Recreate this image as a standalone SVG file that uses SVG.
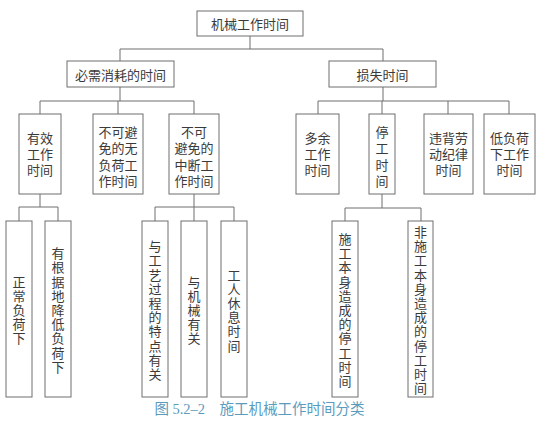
<svg xmlns="http://www.w3.org/2000/svg" width="543" height="433" viewBox="0 0 543 433">
<style>
.b{fill:#fff;stroke:#6e6e6e;stroke-width:1}
.t{font-family:"Noto Sans CJK SC","Noto Sans",sans-serif;font-size:13px;fill:#3a3a3a;text-anchor:middle;dominant-baseline:central}
.c{fill:none;stroke:#6e6e6e;stroke-width:1}
.cap{font-family:"Liberation Serif","Noto Sans CJK SC",serif;font-size:14.5px;fill:#5b9bbd;text-anchor:middle;dominant-baseline:central}
</style>
<rect width="543" height="433" fill="#fff"/>
<g id="connectors" class="c">
<path d="M250,36V49M120,49H383M120,49V61M383,49V61"/>
<path d="M120,87V101M40,101H194M40,101V114M118,101V114M194,101V114"/>
<path d="M383,87V101M318,101H509M318,101V114M382,101V114M448,101V114M509,101V114"/>
<path d="M40,194V207M19,207H58M19,207V221M58,207V221"/>
<path d="M194,194V207M155,207H234M155,207V221M194,207V221M234,207V221"/>
<path d="M382,194V208M345,208H421M345,208V221M421,208V221"/>
</g>
<g id="n-root"><rect class="b" x="197" y="11" width="106" height="25"/><text class="t" x="250" y="23.5">机械工作时间</text></g>
<g id="n-need"><rect class="b" x="67" y="61" width="107" height="26"/><text class="t" x="120.5" y="74">必需消耗的时间</text></g>
<g id="n-loss"><rect class="b" x="329" y="61" width="107" height="26"/><text class="t" x="382.5" y="74">损失时间</text></g>
<g id="n-eff"><rect class="b" x="19" y="114" width="42" height="80"/><text class="t"><tspan x="40" y="137">有效</tspan><tspan x="40" y="153">工作</tspan><tspan x="40" y="169">时间</tspan></text></g>
<g id="n-noload"><rect class="b" x="93" y="114" width="50" height="80"/><text class="t"><tspan x="118" y="131">不可避</tspan><tspan x="118" y="147.3">免的无</tspan><tspan x="118" y="163.6">负荷工</tspan><tspan x="118" y="180">作时间</tspan></text></g>
<g id="n-interrupt"><rect class="b" x="169" y="114" width="50" height="80"/><text class="t"><tspan x="194" y="131">不可</tspan><tspan x="194" y="147.3">避免的</tspan><tspan x="194" y="163.6">中断工</tspan><tspan x="194" y="180">作时间</tspan></text></g>
<g id="n-extra"><rect class="b" x="296" y="114" width="43" height="80"/><text class="t"><tspan x="317.5" y="137">多余</tspan><tspan x="317.5" y="153">工作</tspan><tspan x="317.5" y="169">时间</tspan></text></g>
<g id="n-stop"><rect class="b" x="369" y="114" width="26" height="80"/><text class="t"><tspan x="382" y="131">停</tspan><tspan x="382" y="147.3">工</tspan><tspan x="382" y="163.6">时</tspan><tspan x="382" y="180">间</tspan></text></g>
<g id="n-discipline"><rect class="b" x="424" y="114" width="49" height="80"/><text class="t"><tspan x="448.5" y="137">违背劳</tspan><tspan x="448.5" y="153">动纪律</tspan><tspan x="448.5" y="169">时间</tspan></text></g>
<g id="n-lowload"><rect class="b" x="484" y="114" width="51" height="80"/><text class="t"><tspan x="509.5" y="137">低负荷</tspan><tspan x="509.5" y="153">下工作</tspan><tspan x="509.5" y="169">时间</tspan></text></g>
<g id="n-normal"><rect class="b" x="6" y="221" width="26" height="176"/><text class="t"><tspan x="19" y="280.6">正</tspan><tspan x="19" y="294.8">常</tspan><tspan x="19" y="309">负</tspan><tspan x="19" y="323.2">荷</tspan><tspan x="19" y="337.4">下</tspan></text></g>
<g id="n-reduced"><rect class="b" x="45" y="221" width="26" height="176"/><text class="t"><tspan x="58" y="252.2">有</tspan><tspan x="58" y="266.4">根</tspan><tspan x="58" y="280.6">据</tspan><tspan x="58" y="294.8">地</tspan><tspan x="58" y="309">降</tspan><tspan x="58" y="323.2">低</tspan><tspan x="58" y="337.4">负</tspan><tspan x="58" y="351.6">荷</tspan><tspan x="58" y="365.8">下</tspan></text></g>
<g id="n-process"><rect class="b" x="142" y="221" width="26" height="176"/><text class="t"><tspan x="155" y="245.1">与</tspan><tspan x="155" y="259.3">工</tspan><tspan x="155" y="273.5">艺</tspan><tspan x="155" y="287.7">过</tspan><tspan x="155" y="301.9">程</tspan><tspan x="155" y="316.1">的</tspan><tspan x="155" y="330.3">特</tspan><tspan x="155" y="344.5">点</tspan><tspan x="155" y="358.7">有</tspan><tspan x="155" y="372.9">关</tspan></text></g>
<g id="n-machine"><rect class="b" x="181" y="221" width="26" height="176"/><text class="t"><tspan x="194" y="280.6">与</tspan><tspan x="194" y="294.8">机</tspan><tspan x="194" y="309">械</tspan><tspan x="194" y="323.2">有</tspan><tspan x="194" y="337.4">关</tspan></text></g>
<g id="n-rest"><rect class="b" x="221" y="221" width="26" height="176"/><text class="t"><tspan x="234" y="273.5">工</tspan><tspan x="234" y="287.7">人</tspan><tspan x="234" y="301.9">休</tspan><tspan x="234" y="316.1">息</tspan><tspan x="234" y="330.3">时</tspan><tspan x="234" y="344.5">间</tspan></text></g>
<g id="n-selfstop"><rect class="b" x="332" y="221" width="26" height="176"/><text class="t"><tspan x="345" y="238">施</tspan><tspan x="345" y="252.2">工</tspan><tspan x="345" y="266.4">本</tspan><tspan x="345" y="280.6">身</tspan><tspan x="345" y="294.8">造</tspan><tspan x="345" y="309">成</tspan><tspan x="345" y="323.2">的</tspan><tspan x="345" y="337.4">停</tspan><tspan x="345" y="351.6">工</tspan><tspan x="345" y="365.8">时</tspan><tspan x="345" y="380">间</tspan></text></g>
<g id="n-otherstop"><rect class="b" x="408" y="221" width="25" height="176"/><text class="t"><tspan x="420.5" y="230.9">非</tspan><tspan x="420.5" y="245.1">施</tspan><tspan x="420.5" y="259.3">工</tspan><tspan x="420.5" y="273.5">本</tspan><tspan x="420.5" y="287.7">身</tspan><tspan x="420.5" y="301.9">造</tspan><tspan x="420.5" y="316.1">成</tspan><tspan x="420.5" y="330.3">的</tspan><tspan x="420.5" y="344.5">停</tspan><tspan x="420.5" y="358.7">工</tspan><tspan x="420.5" y="372.9">时</tspan><tspan x="420.5" y="387.1">间</tspan></text></g>
<text class="cap" x="259.5" y="409">图 5.2–2　施工机械工作时间分类</text>
</svg>
